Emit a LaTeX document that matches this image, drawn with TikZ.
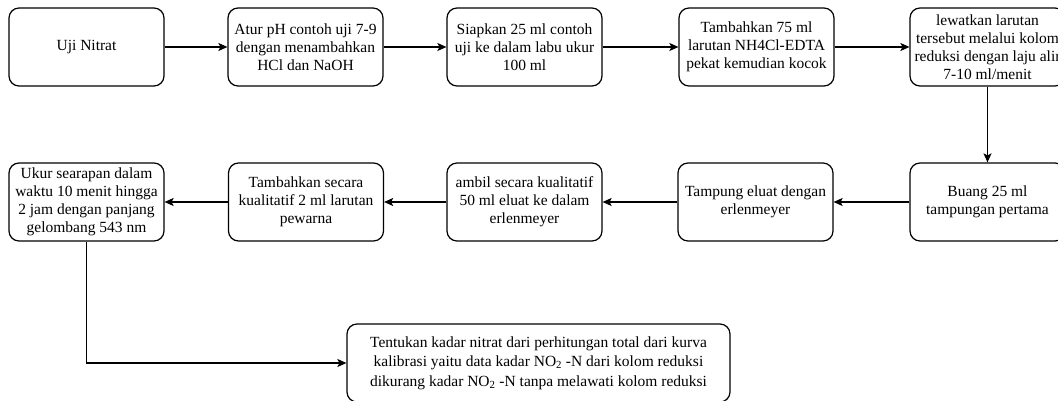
\documentclass[tikz,border=0pt]{standalone}
\usepackage{fontspec}
\setmainfont{Liberation Serif}
\usetikzlibrary{arrows.meta}
\begin{document}
\begin{tikzpicture}[x=1pt,y=-1pt,
 box/.style={draw, line width=1.2pt, rounded corners=10pt, minimum width=155pt, minimum height=78pt, align=center, font=\fontsize{15.5}{18}\selectfont, inner sep=0pt},
 arr/.style={-{Stealth[length=9pt,width=8pt,inset=2pt]}, line width=1.2pt}]
\useasboundingbox (0,0) rectangle (1058,401);
\fill[white] (0,0) rectangle (1058,401);
% row 1
\node[box] (b1) at (86.5,47) {Uji Nitrat};
\node[box] (b2) at (305.5,47) {Atur pH contoh uji 7-9\\dengan menambahkan\\HCl dan NaOH};
\node[box] (b3) at (524.5,47) {Siapkan 25 ml contoh\\uji ke dalam labu ukur\\100 ml};
\node[box] (b4) at (756.5,47) {Tambahkan 75 ml\\larutan NH4Cl-EDTA\\pekat kemudian kocok};
\node[box] (b5) at (987.5,47) {lewatkan larutan\\tersebut melalui kolom\\reduksi dengan laju alir\\7-10 ml/menit};
% row 2
\node[box] (c1) at (987.5,202) {Buang 25 ml\\tampungan pertama};
\node[box] (c2) at (755.5,202) {Tampung eluat dengan\\erlenmeyer};
\node[box] (c3) at (524.5,202) {ambil secara kualitatif\\50 ml eluat ke dalam\\erlenmeyer};
\node[box] (c4) at (306,202) {Tambahkan secara\\kualitatif 2 ml larutan\\pewarna};
\node[box] (c5) at (86.5,202) {Ukur searapan dalam\\waktu 10 menit hingga\\2 jam dengan panjang\\gelombang 543 nm};
% bottom
\node[box, minimum width=383pt, font=\fontsize{15.5}{19.5}\selectfont] (d1) at (538.5,363) {Tentukan kadar nitrat dari perhitungan total dari kurva\\kalibrasi yaitu data kadar NO\textsubscript{2} -N dari kolom reduksi\\dikurang kadar NO\textsubscript{2} -N tanpa melawati kolom reduksi};
% connectors
\draw[arr] (b1) -- (b2);
\draw[arr] (b2) -- (b3);
\draw[arr] (b3) -- (b4);
\draw[arr] (b4) -- (b5);
\draw[arr] (b5) -- (c1);
\draw[arr] (c1) -- (c2);
\draw[arr] (c2) -- (c3);
\draw[arr] (c3) -- (c4);
\draw[arr] (c4) -- (c5);
\draw[arr] (c5.south) |- (d1.west);
\end{tikzpicture}
\end{document}
